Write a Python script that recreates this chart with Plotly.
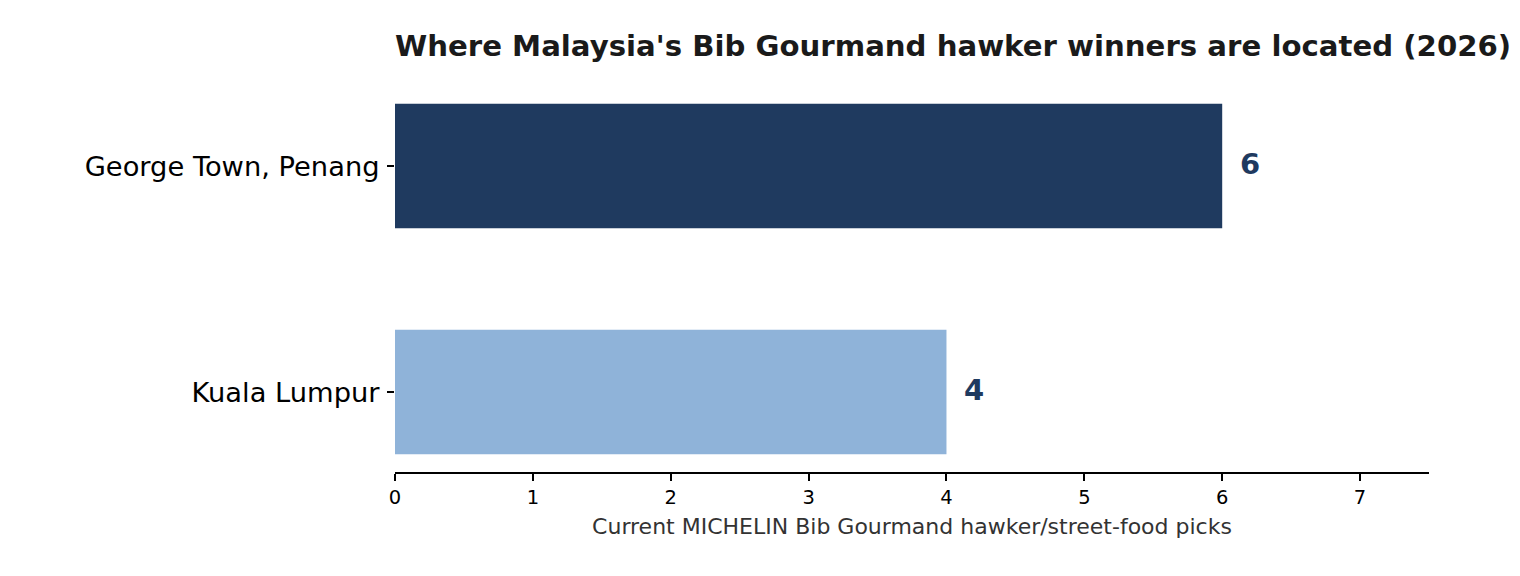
import plotly.graph_objects as go

categories = ["Kuala Lumpur", "George Town, Penang"]
values = [4, 6]
colors = ["#8fb3d9", "#1f3a5f"]
x_ticks = [0, 1, 2, 3, 4, 5, 6, 7]

title = "Where Malaysia's Bib Gourmand hawker winners are located (2026)"
x_title = "Current MICHELIN Bib Gourmand hawker/street-food picks"

FONT = "DejaVu Sans"

fig = go.Figure()
fig.add_trace(go.Bar(
    x=values, y=categories, orientation="h",
    marker=dict(color=colors, line=dict(width=0)),
    width=0.55, hoverinfo="skip",
))

for c, v in zip(categories, values):
    fig.add_annotation(
        x=v, y=c, text=f"<b>{v}</b>", showarrow=False,
        xanchor="left", yanchor="middle", xshift=16, yshift=2,
        font=dict(family=FONT, size=29, color="#1f3a5f"),
    )

fig.update_layout(
    width=1520, height=576,
    margin=dict(l=387, r=99, t=78, b=112),
    paper_bgcolor="white", plot_bgcolor="white",
    showlegend=False,
    font=dict(family=FONT, color="black"),
    title=dict(
        text=f"<b>{title}</b>", x=387/1520, xref="container", xanchor="left",
        y=1 - 38/576, yref="container", yanchor="middle",
        font=dict(family=FONT, size=29.2, color="#1a1a1a"),
    ),
    xaxis=dict(
        range=[0, 7.5], tickvals=x_ticks, ticktext=[str(t) for t in x_ticks],
        showgrid=False, zeroline=False,
        showline=True, linecolor="black", linewidth=1.5,
        ticks="outside", ticklen=7, tickwidth=1.5, tickcolor="black",
        tickfont=dict(family=FONT, size=19.5, color="black"),
        title=dict(text=x_title, standoff=10,
                   font=dict(family=FONT, size=22, color="#333333")),
    ),
    yaxis=dict(
        type="category", categoryorder="array", categoryarray=categories,
        range=[-0.354, 1.354],
        showgrid=False, zeroline=False, showline=False,
        ticks="outside", ticklen=7, tickwidth=1.5, tickcolor="black",
        ticklabelstandoff=2,
        tickfont=dict(family=FONT, size=27.3, color="black"),
    ),
)

fig.write_html("out.html")
